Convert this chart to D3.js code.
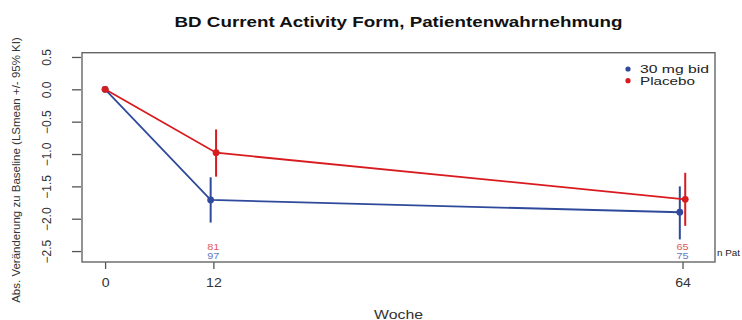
<!DOCTYPE html>
<html>
<head>
<meta charset="utf-8">
<script src="https://cdn.jsdelivr.net/npm/d3@7"></script>
<style>
  html, body { margin: 0; padding: 0; background: #fff; }
  svg { display: block; font-family: "Liberation Sans", Arial, sans-serif; }
</style>
</head>
<body>
<svg id="chart" width="742" height="320"></svg>
<script>
// Weeks of assessment and per-arm results
const weeks = [0, 12, 64];
const xTickLabels = ["0", "12", "64"];
const yTicks = [-2.5, -2.0, -1.5, -1.0, -0.5, 0.0, 0.5];
const seriesNames = ["30 mg bid", "Placebo"];

const activeMean  = [0, -1.71, -1.90];
const activeLower = [0, -2.06, -2.32];
const activeUpper = [0, -1.36, -1.50];
const activeN     = [null, 97, 75];

const placeboMean  = [0, -0.98, -1.70];
const placeboLower = [0, -1.35, -2.11];
const placeboUpper = [0, -0.62, -1.29];
const placeboN     = [null, 81, 65];

const title = "BD Current Activity Form, Patientenwahrnehmung";
const xTitle = "Woche";
const yTitle = "Abs. Veränderung zu Baseline (LSmean +/- 95% KI)";
const nLabel = "n Pat";

const colors = { active: "#2F4A9C", placebo: "#D81B1F" };
const nColors = { active: "#6678BE", placebo: "#E25A5A" };

const svg = d3.select("#chart");
const plot = { left: 82, right: 715, top: 52.7, bottom: 262 };

const x = d3.scaleLinear().domain([-2.56, 67.6]).range([plot.left, plot.right]);
const y = d3.scaleLinear().domain([-2.669, 0.566]).range([plot.bottom, plot.top]);

// widen horizontal text a little (the device uses a broad sans face)
function widen(sel, f) {
  sel.each(function () {
    const w = this.getComputedTextLength();
    d3.select(this).attr("textLength", w * f).attr("lengthAdjust", "spacingAndGlyphs");
  });
}

// small horizontal offset so the two arms do not overlap after baseline
const dodge = 0.3;

const series = [
  { key: "active", name: seriesNames[0], mean: activeMean, lo: activeLower, hi: activeUpper, n: activeN, off: -dodge },
  { key: "placebo", name: seriesNames[1], mean: placeboMean, lo: placeboLower, hi: placeboUpper, n: placeboN, off: dodge }
];

series.forEach(s => {
  s.points = weeks.map((w, i) => ({
    w, xw: w === 0 ? w : w + s.off, m: s.mean[i], lo: s.lo[i], hi: s.hi[i], n: s.n[i]
  }));
});

// title
svg.append("text")
  .attr("x", (plot.left + plot.right) / 2).attr("y", 26.5)
  .attr("text-anchor", "middle")
  .attr("font-size", 14.5).attr("font-weight", "bold").attr("fill", "#111")
  .attr("textLength", 448).attr("lengthAdjust", "spacingAndGlyphs")
  .text(title);

// y axis
const yAxis = d3.axisLeft(y).tickValues(yTicks).tickSize(9).tickFormat(d3.format(".1f"));
const gy = svg.append("g").attr("transform", `translate(${plot.left - 1},0)`).call(yAxis);
gy.select(".domain").remove();
gy.selectAll(".tick line").attr("stroke", "#555").attr("stroke-width", 1.3);
gy.selectAll(".tick text")
  .attr("font-size", 12).attr("fill", "#333")
  .attr("x", 0).attr("dy", 0)
  .attr("text-anchor", "middle")
  .attr("transform", "translate(-30,0) rotate(-90)");

// x axis
const xAxis = d3.axisBottom(x).tickValues(weeks).tickSize(7).tickFormat((d, i) => xTickLabels[i]);
const gx = svg.append("g").attr("transform", `translate(0,${plot.bottom})`).call(xAxis);
gx.select(".domain").remove();
gx.selectAll(".tick line").attr("stroke", "#555").attr("stroke-width", 1.3);
gx.selectAll(".tick text").attr("font-size", 12.5).attr("fill", "#333").attr("y", 16);
widen(gx.selectAll(".tick text"), 1.13);

// plot frame
svg.append("rect")
  .attr("x", plot.left).attr("y", plot.top)
  .attr("width", plot.right - plot.left).attr("height", plot.bottom - plot.top)
  .attr("fill", "none").attr("stroke", "#666").attr("stroke-width", 1.4);

// axis titles
svg.append("text")
  .attr("x", (plot.left + plot.right) / 2).attr("y", 318.5)
  .attr("text-anchor", "middle").attr("font-size", 13).attr("fill", "#333")
  .attr("textLength", 49).attr("lengthAdjust", "spacingAndGlyphs")
  .text(xTitle);

svg.append("text")
  .attr("transform", "translate(20,170) rotate(-90)")
  .attr("text-anchor", "middle").attr("font-size", 11.5).attr("fill", "#333")
  .text(yTitle);

// series: lines, error bars, points
const line = d3.line().x(d => x(d.xw)).y(d => y(d.m));

series.forEach(s => {
  const g = svg.append("g");
  g.append("path").datum(s.points)
    .attr("d", line).attr("fill", "none")
    .attr("stroke", colors[s.key]).attr("stroke-width", 1.8);
  g.selectAll("line.err").data(s.points.filter(d => d.hi !== d.lo)).join("line")
    .attr("class", "err")
    .attr("x1", d => x(d.xw)).attr("x2", d => x(d.xw))
    .attr("y1", d => y(d.lo)).attr("y2", d => y(d.hi))
    .attr("stroke", colors[s.key]).attr("stroke-width", 2);
  g.selectAll("circle").data(s.points).join("circle")
    .attr("cx", d => x(d.xw)).attr("cy", d => y(d.m)).attr("r", 3.4)
    .attr("fill", colors[s.key]);
});

// patient counts below the curves
const nRows = [
  { key: "placebo", vals: placeboN, yPos: 249.6 },
  { key: "active", vals: activeN, yPos: 258.9 }
];
nRows.forEach(r => {
  const t = svg.append("g").selectAll("text")
    .data(weeks.map((w, i) => ({ w, n: r.vals[i] })).filter(d => d.n != null))
    .join("text")
    .attr("x", d => x(d.w)).attr("y", r.yPos)
    .attr("text-anchor", "middle").attr("font-size", 8.4)
    .attr("fill", nColors[r.key])
    .text(d => d.n);
  widen(t, 1.3);
});
svg.append("text")
  .attr("x", plot.right + 2).attr("y", 255.5)
  .attr("font-size", 9.5).attr("fill", "#222")
  .attr("textLength", 23).attr("lengthAdjust", "spacingAndGlyphs")
  .text(nLabel);

// legend
const legend = svg.append("g");
const legendWidths = [69, 55];
series.forEach((s, i) => {
  legend.append("circle").attr("cx", 628).attr("cy", 69 + i * 11.7).attr("r", 2.6)
    .attr("fill", colors[s.key]);
  legend.append("text").attr("x", 640).attr("y", 73.2 + i * 11.7)
    .attr("font-size", 11.2).attr("fill", "#222")
    .attr("textLength", legendWidths[i]).attr("lengthAdjust", "spacingAndGlyphs")
    .text(s.name);
});
</script>
</body>
</html>
